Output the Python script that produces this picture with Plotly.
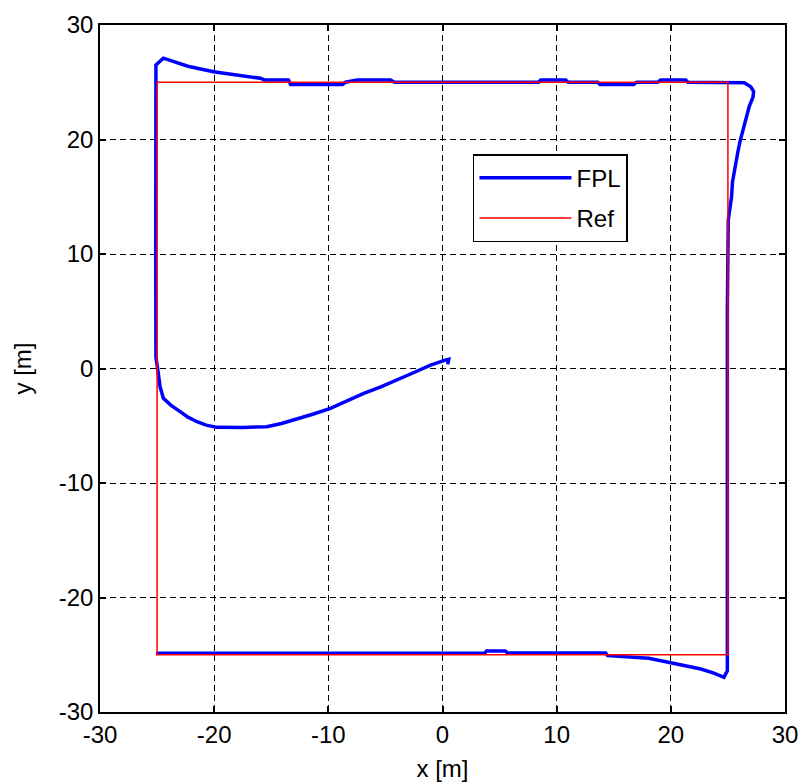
import plotly.graph_objects as go

# Reference square path (corners, closed)
ref_x = [-25, 25, 25, -25, -25]
ref_y = [25, 25, -25, -25, 25]

# Recorded FPL trajectory [m]
fpl_x = [0.45, 0.55, 0.3, -1.05, -2.5, -3.97, -5.4, -6.9, -8.4, -9.82, -11.3,
         -12.75, -14.1, -15.4, -17.5, -19.76, -20.7, -21.5, -22.3, -22.98, -23.8,
         -24.45, -24.74, -24.9, -25.1, -25.12, -25.12, -25.1, -24.45,
         -22.3, -20.06, -17.8, -15.96, -15.6, -13.5, -13.3, -11.3, -8.77, -8.5, -7.46,
         -4.56, -4.2, 8.42, 8.6, 10.79, 11.0, 13.6, 13.8, 16.75, 17.0, 18.86, 19.1,
         21.3, 21.5, 26.43, 27.0, 27.25, 27.2, 26.87, 26.58, 26.29, 26.05, 25.85,
         25.64, 25.4, 25.32, 25.2, 25.03, 24.95, 24.93, 24.95, 24.65, 23.77, 22.63,
         20.88, 19.56, 18.07, 14.47, 14.3, 5.7, 5.5, 3.86, 3.7, -25.1]
fpl_y = [0.35, 0.8, 0.75, 0.3, -0.35, -1.0, -1.6, -2.17, -2.85, -3.48, -3.97,
         -4.4, -4.8, -5.08, -5.15, -5.14, -4.95, -4.65, -4.25, -3.77, -3.2,
         -2.6, -1.6, -0.4, 1.0, 10.0, 20.0, 26.5, 27.1,
         26.4, 25.92, 25.6, 25.35, 25.2, 25.2, 24.8, 24.8, 24.8, 25.0, 25.2,
         25.2, 25.0, 25.0, 25.2, 25.2, 25.0, 25.0, 24.8, 24.8, 25.0, 25.0, 25.2,
         25.2, 25.0, 24.95, 24.6, 24.2, 23.7, 22.9, 21.85, 20.83, 19.8, 18.8,
         17.6, 16.3, 15.0, 14.13, 12.97, 5.0, -10.0, -26.4, -26.97, -26.6, -26.25,
         -25.9, -25.6, -25.3, -25.08, -24.85, -24.85, -24.67, -24.67, -24.87, -24.87]

axis_ticks = [-30, -20, -10, 0, 10, 20, 30]
text_font = dict(family="Liberation Sans, Arial, sans-serif", size=24, color="black")

fig = go.Figure()
fig.add_trace(go.Scatter(x=fpl_x, y=fpl_y, mode="lines", name="FPL",
                         legendgroup="fpl",
                         line=dict(color="#0000ff", width=3.5, shape="linear")))
fig.add_trace(go.Scatter(x=ref_x, y=ref_y, mode="lines", name="Ref",
                         legendgroup="ref",
                         line=dict(color="#ff0000", width=1.5)))

axis_common = dict(
    range=[-30, 30], tickvals=axis_ticks, ticktext=[str(t) for t in axis_ticks],
    showline=True, linecolor="black", linewidth=1.5, mirror="ticks",
    ticks="inside", ticklen=6, tickcolor="black", tickwidth=1.5,
    showgrid=True, gridcolor="black", gridwidth=1.3, griddash="6px,4px",
    zeroline=False, tickfont=text_font, automargin=False,
)

fig.update_layout(
    width=802, height=783,
    margin=dict(l=100, r=17, t=25, b=71),
    paper_bgcolor="white", plot_bgcolor="white",
    font=text_font,
    xaxis=dict(**axis_common, title=dict(text="x [m]", standoff=14,
                                         font=text_font)),
    yaxis=dict(**axis_common, title=dict(text="y [m]", standoff=20,
                                         font=text_font)),
    showlegend=True,
    legend=dict(x=0.5445, y=0.812, xanchor="left", yanchor="top",
                bgcolor="white", bordercolor="black", borderwidth=1.5,
                font=text_font, itemwidth=92, tracegroupgap=6),
)

fig.write_html("out.html")
